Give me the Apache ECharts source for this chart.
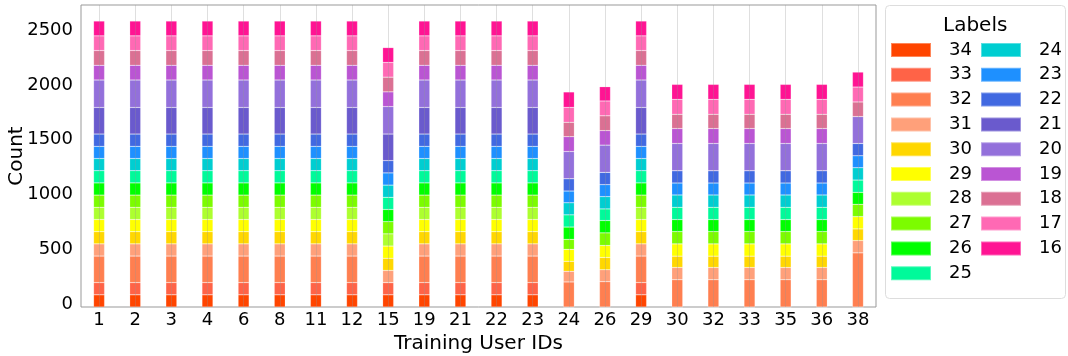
<!DOCTYPE html>
<html>
<head>
<meta charset="utf-8">
<script src="https://cdn.jsdelivr.net/npm/echarts@6/dist/echarts.min.js"></script>
<style>
  html, body { margin: 0; padding: 0; background: #fff; }
  #chart { width: 1068px; height: 356px; }
</style>
</head>
<body>
<div id="chart"></div>
<script>
// training user ids (x categories)
const users = ['1', '2', '3', '4', '6', '8', '11', '12', '15', '19', '21', '22', '23', '24', '26', '29', '30', '32', '33', '35', '36', '38']

// per-label counts, one value per user (stacked bottom -> top: 34 ... 16)
const label34 = [111, 111, 111, 111, 111, 111, 111, 111, 111, 111, 111, 111, 111, 0, 0, 111, 0, 0, 0, 0, 0, 0]
const label33 = [111, 111, 111, 111, 111, 111, 111, 111, 111, 111, 111, 111, 111, 0, 0, 111, 0, 0, 0, 0, 0, 0]
const label32 = [242, 242, 242, 242, 242, 242, 242, 242, 0, 242, 242, 242, 242, 228, 230, 242, 248, 248, 248, 248, 248, 493]
const label31 = [111, 111, 111, 111, 111, 111, 111, 111, 111, 111, 111, 111, 111, 97, 109, 111, 112, 112, 112, 112, 112, 112]
const label30 = [111, 111, 111, 111, 111, 111, 111, 111, 111, 111, 111, 111, 111, 91, 112, 111, 103, 103, 103, 103, 103, 106]
const label29 = [111, 111, 111, 111, 111, 111, 111, 111, 111, 111, 111, 111, 111, 109, 109, 111, 112, 112, 112, 112, 112, 112]
const label28 = [111, 111, 111, 111, 111, 111, 111, 111, 111, 111, 111, 111, 111, 0, 0, 111, 0, 0, 0, 0, 0, 0]
const label27 = [111, 111, 111, 111, 111, 111, 111, 111, 111, 111, 111, 111, 111, 91, 115, 111, 112, 112, 112, 112, 112, 112]
const label26 = [111, 111, 111, 111, 111, 111, 111, 111, 111, 111, 111, 111, 111, 112, 112, 111, 109, 109, 109, 109, 109, 109]
const label25 = [111, 111, 111, 111, 111, 111, 111, 111, 111, 111, 111, 111, 111, 111, 106, 111, 112, 112, 112, 112, 112, 112]
const label24 = [111, 111, 111, 111, 111, 111, 111, 111, 111, 111, 111, 111, 111, 110, 112, 111, 112, 112, 112, 112, 112, 112]
const label23 = [111, 111, 111, 111, 111, 111, 111, 111, 111, 111, 111, 111, 111, 107, 109, 111, 109, 109, 109, 109, 109, 109]
const label22 = [112, 112, 112, 112, 112, 112, 112, 112, 112, 112, 112, 112, 112, 112, 112, 112, 112, 112, 112, 112, 112, 112]
const label21 = [242, 242, 242, 242, 242, 242, 242, 242, 242, 242, 242, 242, 242, 0, 0, 242, 0, 0, 0, 0, 0, 0]
const label20 = [250, 250, 250, 250, 250, 250, 250, 250, 250, 250, 250, 250, 250, 248, 248, 250, 248, 248, 248, 248, 248, 245]
const label19 = [134, 134, 134, 134, 134, 134, 134, 134, 134, 134, 134, 134, 134, 135, 132, 134, 136, 136, 136, 136, 136, 0]
const label18 = [134, 134, 134, 134, 134, 134, 134, 134, 134, 134, 134, 134, 134, 131, 135, 134, 130, 130, 130, 130, 130, 133]
const label17 = [134, 134, 134, 134, 134, 134, 134, 134, 134, 134, 134, 134, 134, 136, 135, 134, 136, 136, 136, 136, 136, 136]
const label16 = [135, 135, 135, 135, 135, 135, 135, 135, 135, 135, 135, 135, 135, 140, 130, 135, 136, 136, 136, 136, 136, 136]

const labelNames = ['34', '33', '32', '31', '30', '29', '28', '27', '26', '25', '24', '23', '22', '21', '20', '19', '18', '17', '16']
const labelValues = [label34, label33, label32, label31, label30, label29, label28, label27, label26, label25,
  label24, label23, label22, label21, label20, label19, label18, label17, label16]
const labelColors = ['#FF4500', '#FF6347', '#FF7F50', '#FFA07A', '#FFD700', '#FFFF00', '#ADFF2F', '#7CFC00', '#00FF00', '#00FA9A',
  '#00CED1', '#1E90FF', '#4169E1', '#6A5ACD', '#9370DB', '#BA55D3', '#DB7093', '#FF69B4', '#FF1493']

const yTicks = { min: 0, max: 2750, interval: 500 }
const font = 'DejaVu Sans'

const chart = echarts.init(document.getElementById('chart'), null, { renderer: 'canvas' })

const series = labelNames.map((name, idx) => {
  const s = {
    name,
    type: 'bar',
    stack: 'total',
    barWidth: 11,
    data: labelValues[idx],
    itemStyle: { color: labelColors[idx], borderColor: 'rgba(255,255,255,0.35)', borderWidth: 0.5 },
    emphasis: { disabled: true },
  }
  // vertical grid lines through each user id, drawn over the bars like the original
  if (idx === labelNames.length - 1) {
    s.markLine = {
      silent: true,
      symbol: ['none', 'none'],
      label: { show: false },
      lineStyle: { color: 'rgba(150,150,150,0.3)', width: 1, type: 'solid' },
      data: users.map(u => ({ xAxis: u })),
      animation: false,
    }
  }
  return s
})

const legendCommon = {
  orient: 'vertical',
  top: 41,
  padding: 0,
  itemWidth: 40, itemHeight: 14, itemGap: 6.8,
  icon: 'rect',
  selectedMode: false,
  textStyle: { fontSize: 18, color: '#000', fontFamily: font, padding: [0, 0, 0, 13] },
  z: 5,
}

chart.setOption({
  animation: false,
  textStyle: { fontFamily: font },
  grid: {
    left: 81, right: 192, top: 5, bottom: 49,
    outerBoundsMode: 'none',
    show: true, borderColor: '#999', borderWidth: 1, backgroundColor: 'transparent',
  },
  graphic: [
    {
      type: 'rect',
      left: 885, top: 5,
      shape: { width: 180, height: 293, r: 4 },
      style: { fill: '#fff', stroke: '#ddd', lineWidth: 1 },
      z: 0,
    },
    {
      type: 'text',
      left: 943, top: 16,
      style: { text: 'Labels', font: '20px "DejaVu Sans"', fill: '#000' },
      z: 1,
    },
  ],
  legend: [
    { ...legendCommon, left: 890, data: labelNames.slice(0, 10) },
    { ...legendCommon, left: 980, data: labelNames.slice(10) },
  ],
  xAxis: {
    type: 'category',
    data: users,
    name: 'Training User IDs',
    nameLocation: 'middle',
    nameGap: 27,
    nameMoveOverlap: false,
    nameTextStyle: { fontSize: 20, color: '#000', fontFamily: font },
    axisLine: { show: false },
    axisTick: { show: false },
    axisLabel: { fontSize: 18, color: '#000', margin: 4, interval: 0, fontFamily: font },
    splitLine: { show: false },
  },
  yAxis: {
    type: 'value',
    min: yTicks.min, max: yTicks.max, interval: yTicks.interval,
    name: 'Count',
    nameLocation: 'middle',
    nameGap: 54,
    nameMoveOverlap: false,
    nameTextStyle: { fontSize: 20, color: '#000', fontFamily: font },
    axisLine: { show: false },
    axisTick: { show: false },
    axisLabel: {
      fontSize: 18, color: '#000', margin: 8, showMaxLabel: false, fontFamily: font,
      verticalAlign: 'bottom', lineHeight: 5,
      formatter: v => String(v),
    },
    splitLine: { show: false },
  },
  series,
})
</script>
</body>
</html>
